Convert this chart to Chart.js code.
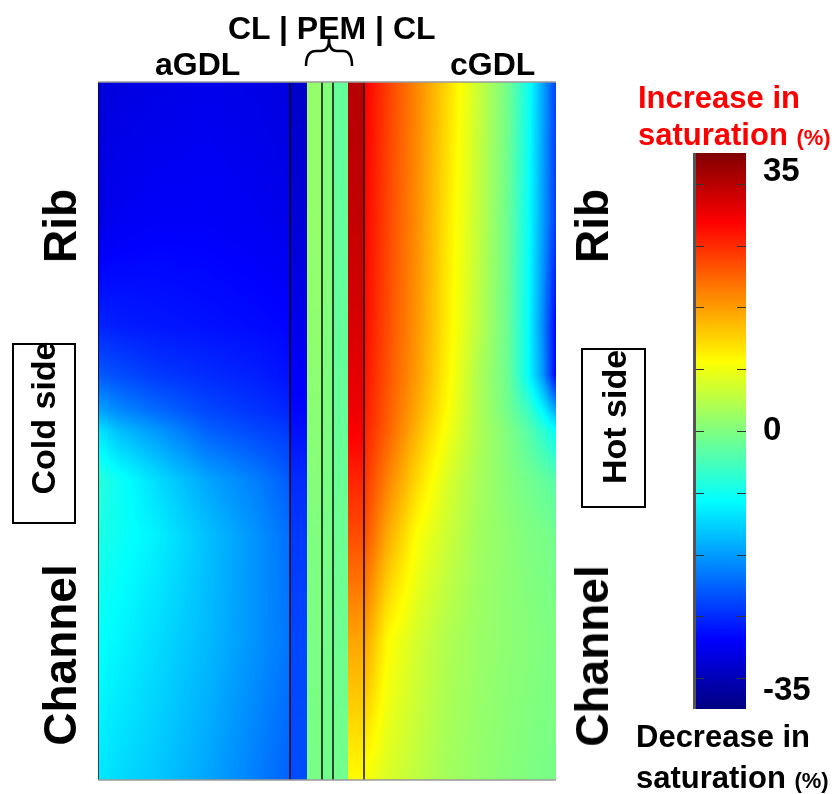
<!DOCTYPE html>
<html lang="en">
  <head>
    <meta charset="UTF-8" />
    <title>Saturation change</title>
    <script src="https://cdn.jsdelivr.net/npm/chart.js"></script>
    <style>
      body { margin: 0; background: #fff; overflow: hidden; }
      .page { position: relative; width: 838px; height: 794px; font-family: "Liberation Sans", Arial, sans-serif; font-weight: bold; }
      canvas { position: absolute; }
      .lbl { position: absolute; line-height: 1; white-space: nowrap; color: #000; }
      .rot { position: absolute; line-height: 1; white-space: nowrap; transform: translate(-50%, -50%) rotate(-90deg); }
      .box { position: absolute; border: 2px solid #000; box-sizing: border-box; }
      .red { color: #ff0000; }
      .pct { font-size: 22px; }
    </style>
  </head>
  <body>
    <div class="page">
      <canvas id="field" width="838" height="794" style="left:0;top:0"></canvas>
      <canvas id="cbar" width="145" height="556" style="left:693px;top:153px"></canvas>

      <div class="lbl" style="left:228px;top:12px;font-size:32px">CL | PEM | CL</div>
      <div class="lbl" style="left:155px;top:48px;font-size:32px">aGDL</div>
      <div class="lbl" style="left:450px;top:48px;font-size:32px">cGDL</div>
      <svg style="position:absolute;left:0;top:0" width="400" height="80">
        <path d="M306,66 Q306,51 316,51 L321,51 Q329,51 329,39 Q329,51 337,51 L343,51 Q352,51 352,66"
              fill="none" stroke="#000" stroke-width="2.5" />
      </svg>

      <div class="rot" style="left:60px;top:226px;font-size:46px">Rib</div>
      <div class="rot" style="left:60px;top:655px;font-size:46px">Channel</div>
      <div class="rot" style="left:592px;top:226px;font-size:46px">Rib</div>
      <div class="rot" style="left:592px;top:656px;font-size:46px">Channel</div>

      <div class="box" style="left:12px;top:343px;width:64px;height:181px"></div>
      <div class="rot" style="left:43px;top:418px;font-size:34px">Cold side</div>
      <div class="box" style="left:581px;top:348px;width:65px;height:160px"></div>
      <div class="rot" style="left:614px;top:417px;font-size:34px">Hot side</div>

      <div class="lbl red" style="left:638px;top:82px;font-size:31px">Increase in</div>
      <div class="lbl red" style="left:638px;top:119px;font-size:31px">saturation <span class="pct">(%)</span></div>
      <div class="lbl" style="left:636px;top:721px;font-size:31px">Decrease in</div>
      <div class="lbl" style="left:636px;top:762px;font-size:31px">saturation <span class="pct">(%)</span></div>
    </div>

    <script>
      // layer edges across the cell (aGDL | aMPL | aCL | PEM | cCL | cMPL | cGDL)
      const layerEdges = [0, 192, 209, 224, 235, 250, 266, 458];
      const boundaryLines = [0, 192, 224, 235, 266];

      // in-plane position, % of unit cell (100 = rib top, 0 = channel bottom)
      const rowY = [100, 80, 65, 58, 53, 50, 43, 35, 20, 0];

      // saturation change (%) in the anode GDL
      const aGDLx = [0, 20, 60, 110, 160, 192];
      const aGDL = [
        [-31, -30.5, -30, -29.5, -30, -30.5],
        [-30, -29, -28.5, -28.5, -29, -29.5],
        [-25.5, -26, -26.5, -27, -27.5, -28],
        [-21.5, -22.5, -24, -25, -26, -27],
        [-16, -18, -20.5, -23, -24.5, -25.5],
        [-11, -14, -17, -21, -23, -24],
        [-6.5, -8.5, -12, -16, -19, -21.5],
        [-7.5, -8.5, -10.5, -14, -17.5, -20],
        [-9, -10, -12, -14.5, -17.5, -19.5],
        [-11, -12, -13.5, -16, -19, -21]
      ];

      // thin layers: one value per row
      const aMPL = [-32, -31, -29.5, -28.5, -27.8, -27, -25, -24, -23, -22.5];
      const aCL = [1.5, 1.5, 1.2, 1, 0.8, 0.7, 0.4, 0, -0.3, -0.5];
      const PEM = [0.3, 0.3, 0.2, 0, -0.1, -0.2, -0.4, -0.6, -0.8, -1];
      const cCL = [-2, -2, -2, -1.9, -1.85, -1.8, -1.6, -1.4, -1.2, -1];
      const cMPL = [33.5, 32.5, 31, 30, 29.3, 28.5, 25.5, 22.5, 16, 9.5];

      // cathode GDL
      const cGDLx = [266, 290, 320, 350, 380, 410, 430, 445, 458];
      const cGDL = [
        [28.5, 23.5, 18, 12, 5.5, -1, -8, -16, -23.5],
        [28, 23, 17.5, 11, 5, -1.5, -8.5, -16.5, -24],
        [27.5, 22.5, 17, 10.5, 4.5, -1.5, -9, -18, -28],
        [27, 22, 16.5, 10, 3.5, -1.5, -9, -17, -28],
        [26.5, 21.5, 15.5, 9.2, 3.5, -1, -5, -10, -16],
        [26, 21, 14.5, 8.5, 3.5, 0, -3, -6, -9],
        [24.5, 18.5, 12, 6.5, 3, 0.5, -1, -2, -3],
        [22.5, 15.5, 9, 5.5, 2.5, 1, 0, -0.5, -1],
        [16.5, 9.5, 6, 3.5, 2, 1, 0.5, 0, 0],
        [9, 6.5, 4.5, 2.5, 1.5, 0.5, 0, -0.5, -0.5]
      ];

      // colour bar
      const cbarRange = [-37.5, 37.5];
      const cbarLabels = [35, 0, -35];
      const cbarMinor = [-100 / 3, -25, -50 / 3, -25 / 3, 0, 25 / 3, 50 / 3, 25, 100 / 3];

      const layers = [
        { xs: aGDLx, z: aGDL },
        { z: aMPL }, { z: aCL }, { z: PEM }, { z: cCL }, { z: cMPL },
        { xs: cGDLx, z: cGDL }
      ];

      Chart.defaults.font.family = '"Liberation Sans", Arial, sans-serif';

      let jet = v => {
        let t = (v - cbarRange[0]) / (cbarRange[1] - cbarRange[0]);
        t = Math.min(1, Math.max(0, t));
        let c = k => Math.round(255 * Math.min(1, Math.max(0, 1.5 - Math.abs(4 * t - k))));
        return [c(3), c(2), c(1)];
      };

      // position of v inside a sorted (asc or desc) node list -> [index, fraction]
      let locate = (nodes, v) => {
        let n = nodes.length;
        if (n === 1) return [0, 0];
        let asc = nodes[n - 1] > nodes[0];
        for (let i = 0; i < n - 1; i++) {
          let a = nodes[i], b = nodes[i + 1];
          let inside = asc ? v <= b : v >= b;
          if (inside || i === n - 2) {
            let f = (v - a) / (b - a);
            return [i, Math.min(1, Math.max(0, f))];
          }
        }
      };

      let sample = (xv, yv) => {
        let li = layerEdges.length - 2;
        for (let i = 0; i < layerEdges.length - 1; i++) {
          if (xv < layerEdges[i + 1]) { li = i; break; }
        }
        let layer = layers[li];
        let [r, fy] = locate(rowY, yv);
        if (!layer.xs) {
          return layer.z[r] * (1 - fy) + layer.z[r + 1] * fy;
        }
        let [c, fx] = locate(layer.xs, xv);
        let z = layer.z;
        let top = z[r][c] * (1 - fx) + z[r][c + 1] * fx;
        let bot = z[r + 1][c] * (1 - fx) + z[r + 1][c + 1] * fx;
        return top * (1 - fy) + bot * fy;
      };

      const fieldPlugin = {
        id: 'field',
        beforeDatasetsDraw(chart) {
          let { ctx, chartArea: a, scales: { x, y } } = chart;
          let w = Math.round(a.right - a.left), h = Math.round(a.bottom - a.top);
          let off = document.createElement('canvas');
          off.width = w; off.height = h;
          let octx = off.getContext('2d');
          let img = octx.createImageData(w, h);
          for (let py = 0; py < h; py++) {
            let yv = y.getValueForPixel(a.top + py + 0.5);
            for (let px = 0; px < w; px++) {
              let xv = x.getValueForPixel(a.left + px + 0.5);
              let [r, g, b] = jet(sample(xv, yv));
              let k = (py * w + px) * 4;
              img.data[k] = r; img.data[k + 1] = g; img.data[k + 2] = b; img.data[k + 3] = 255;
            }
          }
          octx.putImageData(img, 0, 0);
          ctx.drawImage(off, a.left, a.top);
        },
        afterDraw(chart) {
          let { ctx, chartArea: a } = chart;
          ctx.save();
          ctx.strokeStyle = '#9a9a9a';
          ctx.lineWidth = 1.5;
          ctx.beginPath();
          ctx.moveTo(a.left, a.top); ctx.lineTo(a.right, a.top);
          ctx.moveTo(a.left, a.bottom); ctx.lineTo(a.right, a.bottom);
          ctx.stroke();
          ctx.restore();
        }
      };

      new Chart('field', {
        type: 'scatter',
        data: {
          datasets: boundaryLines.map(b => ({
            data: [{ x: b, y: rowY[rowY.length - 1] }, { x: b, y: rowY[0] }],
            showLine: true,
            borderColor: 'rgba(0, 0, 0, 0.7)',
            borderWidth: 2,
            pointRadius: 0
          }))
        },
        options: {
          responsive: false,
          animation: false,
          layout: { padding: { left: 98, right: 282, top: 82, bottom: 14 } },
          scales: {
            x: { type: 'linear', min: layerEdges[0], max: layerEdges[layerEdges.length - 1], display: false },
            y: { type: 'linear', min: 0, max: 100, display: false }
          },
          plugins: { legend: { display: false }, tooltip: { enabled: false } }
        },
        plugins: [fieldPlugin]
      });

      const cbarPlugin = {
        id: 'cbarFrame',
        afterDatasetsDraw(chart) {
          let { ctx, chartArea: a, scales: { y } } = chart;
          ctx.save();
          ctx.strokeStyle = '#333';
          ctx.lineWidth = 1;
          ctx.beginPath();
          cbarMinor.forEach(v => {
            let py = Math.round(y.getPixelForValue(v)) + 0.5;
            ctx.moveTo(a.left + 3, py); ctx.lineTo(a.left + 11, py);
            ctx.moveTo(a.right - 9, py); ctx.lineTo(a.right, py);
          });
          ctx.stroke();
          ctx.strokeStyle = '#555';
          ctx.lineWidth = 3;
          ctx.beginPath();
          ctx.moveTo(a.left + 1.5, a.top); ctx.lineTo(a.left + 1.5, a.bottom);
          ctx.stroke();
          ctx.restore();
        }
      };

      new Chart('cbar', {
        type: 'bar',
        data: {
          labels: ['saturation'],
          datasets: [{
            data: [cbarRange],
            barPercentage: 1,
            categoryPercentage: 1,
            borderWidth: 0,
            backgroundColor: c => {
              let a = c.chart.chartArea;
              if (!a) return '#888';
              let g = c.chart.ctx.createLinearGradient(0, a.bottom, 0, a.top);
              for (let i = 0; i <= 40; i++) {
                let v = cbarRange[0] + (cbarRange[1] - cbarRange[0]) * i / 40;
                let [r, gg, b] = jet(v);
                g.addColorStop(i / 40, `rgb(${r}, ${gg}, ${b})`);
              }
              return g;
            }
          }]
        },
        options: {
          responsive: false,
          animation: false,
          layout: { padding: 0 },
          scales: {
            x: { display: false },
            y: {
              position: 'right',
              min: cbarRange[0],
              max: cbarRange[1],
              afterFit: s => { s.width = 92; s.paddingTop = 0; s.paddingBottom = 0; },
              afterBuildTicks: s => { s.ticks = cbarLabels.map(v => ({ value: v })); },
              ticks: { color: '#000', padding: 9, font: { size: 33, weight: 'bold' } },
              grid: { display: false },
              border: { display: false }
            }
          },
          plugins: { legend: { display: false }, tooltip: { enabled: false } }
        },
        plugins: [cbarPlugin]
      });
    </script>
  </body>
</html>
